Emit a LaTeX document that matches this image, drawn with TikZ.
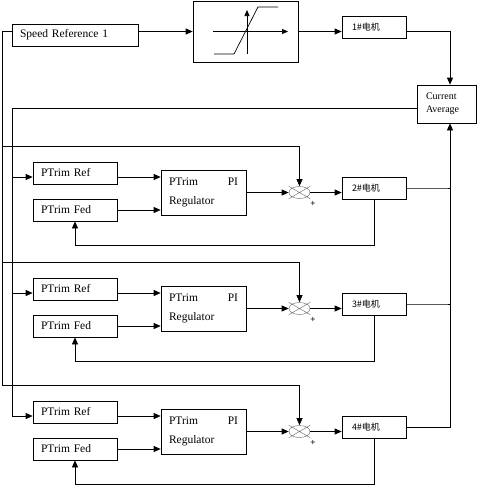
\documentclass[tikz,border=0pt]{standalone}
\usepackage{fontspec}
\setmainfont{Liberation Serif}
\newfontfamily\cjk{Noto Sans CJK SC}
\usetikzlibrary{arrows.meta}

\begin{document}
\begin{tikzpicture}[x=1pt, y=-1pt, >={Triangle[length=7pt,width=6pt]}, line width=0.7pt,
    box/.style={draw, rectangle, inner ysep=0pt, inner xsep=8pt, minimum height=22pt, align=left, font=\fontsize{11.5}{14}\selectfont},
    motor/.style={box, inner xsep=10pt, text width=44pt, font=\cjk\fontsize{9}{11}\selectfont},
    junction/.style={rectangle, inner sep=0pt, minimum width=21pt, minimum height=12pt},
    cross/.style={line width=0.4pt, black!60}]
    \useasboundingbox (0,0) rectangle (481,485);

    % top row
    \node[box, text width=110pt] (sr) at (75,35) {Speed Reference 1};
    \node[draw, minimum width=105pt, minimum height=61pt] (sat) at (245.5,31.5) {};
    \node[motor] (m1) at (374,27) {1\#电机};
    \node[box, inner xsep=9pt, text width=41pt, minimum height=38pt, font=\fontsize{10}{13}\selectfont] (ca) at (446.5,104) {Current\\Average};

    % limiter curve
    \draw[->, >={Triangle[length=6pt,width=5pt]}] (213,31.5) -- (288,31.5);
    \draw[->, >={Triangle[length=6pt,width=5pt]}] (247,54) -- (247,10);
    \draw (214,54) -- (234,54) -- (258,7) -- (278,7);

    \draw[->] (sr.east |- sat.west) -- (sat.west);
    \draw[->] (sat.east) -- (sat.east -| m1.west);
    \draw[->] (m1.east |- sat.east) -| ([xshift=3.5pt]ca.north);

    % trim rows
    \foreach \n/\y in {2/146, 3/262, 4/385} {
        \node[box, text width=68pt] (ref\n) at (75,\y+27) {PTrim Ref};
        \node[box, text width=68pt] (fed\n) at (75,\y+64) {PTrim Fed};
        \node[box, text width=69pt, minimum height=45pt, font=\fontsize{11.5}{19}\selectfont] (pi\n) at (203.5,\y+46.5) {\makebox[69pt][s]{PTrim\hfill PI}\\Regulator};
        \node[junction] (sum\n) at (299.5,\y+46.5) {};
        \node[motor] (mot\n) at (374,\y+42) {\n\#电机};
        \node[font=\fontsize{9}{9}\selectfont\bfseries] (plus\n) at (313,\y+58) {+};
        \coordinate (o\n) at (2,\y);
        \coordinate (i\n) at (12,\y+31);

        \draw[cross] (sum\n.center) ellipse (10.5 and 6)
            (sum\n.north west) -- (sum\n.south east)
            (sum\n.north east) -- (sum\n.south west);
        \draw[->] (o\n) -| (sum\n.north);
        \draw[->] (i\n) -- (i\n -| ref\n.west);
        \draw[->] (i\n -| ref\n.east) -- (i\n -| pi\n.west);
        \draw[->] (fed\n.east) -- (fed\n.east -| pi\n.west);
        \draw[->] (pi\n.east) -- (pi\n.east -| sum\n.west);
        \draw[->] (sum\n.east) -- (sum\n.east -| mot\n.west);
        \draw[->] (mot\n.south) -- ++(0,45.5) -| (fed\n.south);
    }

    % buses
    \draw (sr.west |- sat.west) -| (o4);
    \draw ([yshift=-4pt]ca.west) -| (i4);
    \draw (mot2.east) -- (mot2.east -| ca.south) -- ++(3.5,0);
    \draw (mot3.east) -- (mot3.east -| ca.south) -- ++(3.5,0);
    \draw[->] (mot4.east) -| ([xshift=3.5pt]ca.south);
\end{tikzpicture}
\end{document}
